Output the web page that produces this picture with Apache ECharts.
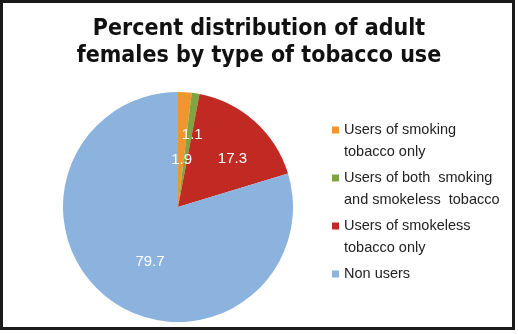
<!DOCTYPE html>
<html>
<head>
<meta charset="utf-8">
<script src="https://cdn.jsdelivr.net/npm/echarts@6/dist/echarts.min.js"></script>
<style>
html,body{margin:0;padding:0;background:#fff;}
#frame{position:absolute;left:0;top:0;width:509px;height:324px;border:3px solid #1a1a1a;background:#fff;}
#c{width:518px;height:334px;position:absolute;left:0;top:0;}
</style>
</head>
<body>
<div id="frame"></div>
<div id="c"></div>
<script>
const titleText = "Percent distribution of adult\nfemales by type of tobacco use";
const categories = ["Users of smoking tobacco only", "Users of both smoking and smokeless tobacco", "Users of smokeless tobacco only", "Non users"];
const legendLines = [["Users of smoking", "tobacco only"], ["Users of both  smoking", "and smokeless  tobacco"], ["Users of smokeless", "tobacco only"], ["Non users", ""]];
const values = [1.9, 1.1, 17.3, 79.7];
const colors = ["#F0962F", "#7EA541", "#C02A22", "#8CB2DE"];
const labelOffsets = [[0, 13], [5, -12], [14, -3], [8, 6]];

const chart = echarts.init(document.getElementById('c'), null, {renderer: 'canvas'});
chart.setOption({
  backgroundColor: 'transparent',
  animation: false,
  title: {
    text: titleText,
    left: 'center',
    top: 11,
    textStyle: {fontFamily: '"DejaVu Sans Condensed", "DejaVu Sans"', fontWeight: 'bold', fontSize: 23, lineHeight: 27, color: '#111'}
  },
  legend: {
    orient: 'vertical',
    left: 332,
    top: 97,
    padding: 0,
    itemWidth: 7,
    itemHeight: 7,
    itemGap: -18,
    icon: 'rect',
    data: categories,
    formatter: function (name) {
      const l = legendLines[categories.indexOf(name)];
      return '\n' + l[0] + '\n' + l[1];
    },
    textStyle: {fontFamily: 'Liberation Sans', fontSize: 14.5, lineHeight: 22, color: '#222', padding: [0, 0, 0, 0]}
  },
  series: [{
    type: 'pie',
    center: [178, 207],
    radius: 115,
    startAngle: 90,
    clockwise: true,
    avoidLabelOverlap: false,
    label: {
      show: true,
      position: 'inside',
      color: '#fff',
      fontFamily: 'Liberation Sans',
      fontSize: 15,
      formatter: '{c}'
    },
    labelLine: {show: false},
    emphasis: {disabled: true},
    data: categories.map((n, i) => ({
      name: n,
      value: values[i],
      itemStyle: {color: colors[i]},
      label: {offset: labelOffsets[i]}
    }))
  }]
});
</script>
</body>
</html>
